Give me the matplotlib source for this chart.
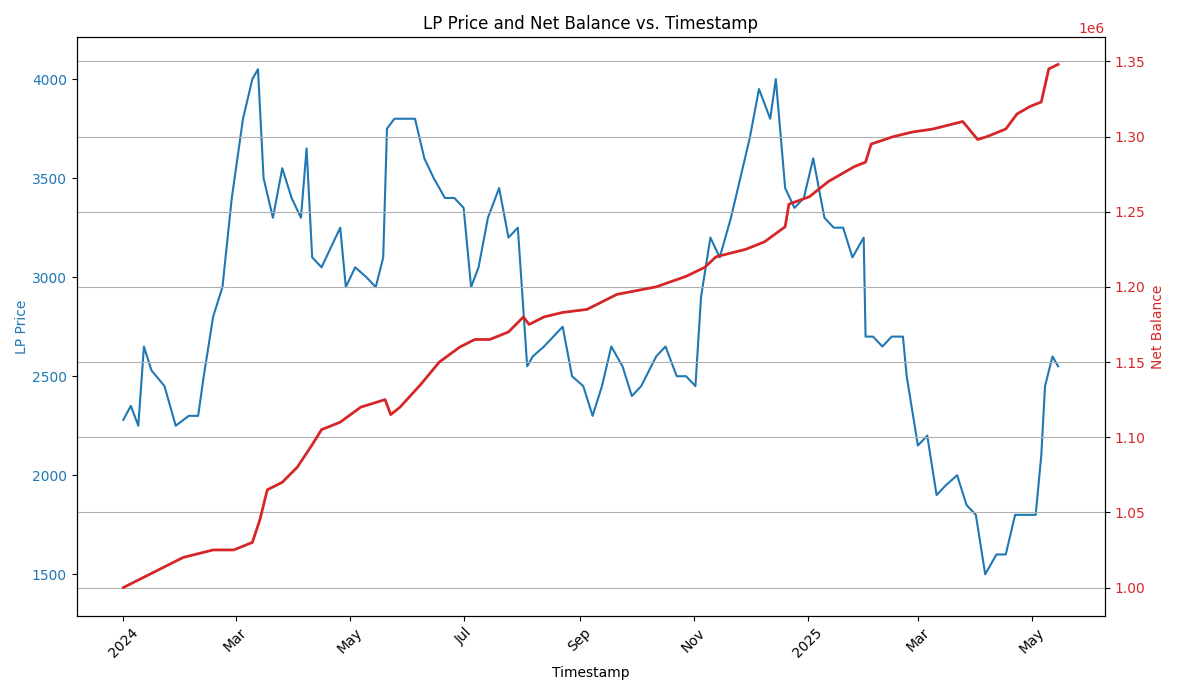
import matplotlib
matplotlib.use("Agg")
import matplotlib.pyplot as plt
import numpy as np
import pandas as pd

start = pd.Timestamp("2024-01-01")

lp_days = [0,4,8,11,15,22,28,35,40,43,48,53,58,64,69,72,75,80,85,90,95,98,101,106,111,116,119,124,130,135,139,141,145,151,156,161,166,172,177,182,186,190,195,201,206,211,216,219,225,230,235,240,246,251,256,261,267,272,277,285,290,296,301,306,309,314,319,325,330,335,340,346,349,354,359,364,369,375,380,385,390,396,397,401,406,411,417,419,425,430,435,440,446,451,456,461,467,472,477,483,488,491,493,497,500]
lp_price = [2280,2350,2250,2650,2530,2450,2250,2300,2300,2500,2800,2950,3400,3800,4000,4050,3500,3300,3550,3400,3300,3650,3100,3050,3150,3250,2950,3050,3000,2950,3100,3750,3800,3800,3800,3600,3500,3400,3400,3350,2950,3050,3300,3450,3200,3250,2550,2600,2650,2700,2750,2500,2450,2300,2450,2650,2550,2400,2450,2600,2650,2500,2500,2450,2900,3200,3100,3300,3500,3700,3950,3800,4000,3450,3350,3400,3600,3300,3250,3250,3100,3200,2700,2700,2650,2700,2700,2500,2150,2200,1900,1950,2000,1850,1800,1500,1600,1600,1800,1800,1800,2100,2450,2600,2550]

nb_days = [0,16,32,48,59,69,73,77,85,93,101,106,116,127,140,143,148,159,169,180,188,196,206,214,217,225,235,248,264,285,301,311,317,333,343,354,356,367,377,391,397,400,412,422,433,449,457,462,472,478,485,491,495,500]
net_balance = [1.000,1.010,1.020,1.025,1.025,1.030,1.045,1.065,1.070,1.080,1.095,1.105,1.110,1.120,1.125,1.115,1.120,1.135,1.150,1.160,1.165,1.165,1.170,1.180,1.175,1.180,1.183,1.185,1.195,1.200,1.207,1.213,1.220,1.225,1.230,1.240,1.255,1.260,1.270,1.280,1.283,1.295,1.300,1.303,1.305,1.310,1.298,1.300,1.305,1.315,1.320,1.323,1.345,1.348]

lp_t = start + pd.to_timedelta(lp_days, unit="D")
nb_t = start + pd.to_timedelta(nb_days, unit="D")
nb = np.array(net_balance) * 1e6

fig, ax1 = plt.subplots(figsize=(11.8, 6.95), dpi=100)
ax1.plot(lp_t, lp_price, color="tab:blue", lw=1.5)
ax1.set_xlabel("Timestamp")
ax1.set_ylabel("LP Price", color="tab:blue", labelpad=2)
ax1.tick_params(axis="y", labelcolor="tab:blue")
ax1.set_ylim(1289, 4211)

ax2 = ax1.twinx()
ax2.plot(nb_t, nb, color="tab:red", lw=2)
ax2.set_ylabel("Net Balance", color="tab:red")
ax2.tick_params(axis="y", labelcolor="tab:red")
ax2.yaxis.get_offset_text().set_color("tab:red")
ax2.set_ylim(0.981e6, 1.366e6)
ax2.grid(True)

ticks = pd.date_range("2024-01-01", "2025-05-01", freq="2MS")
ax1.set_xticks(ticks)
ax1.set_xticklabels([t.strftime("%Y") if t.month == 1 else t.strftime("%b") for t in ticks], rotation=45)

plt.title("LP Price and Net Balance vs. Timestamp")
fig.tight_layout()
fig.savefig("out.png")
